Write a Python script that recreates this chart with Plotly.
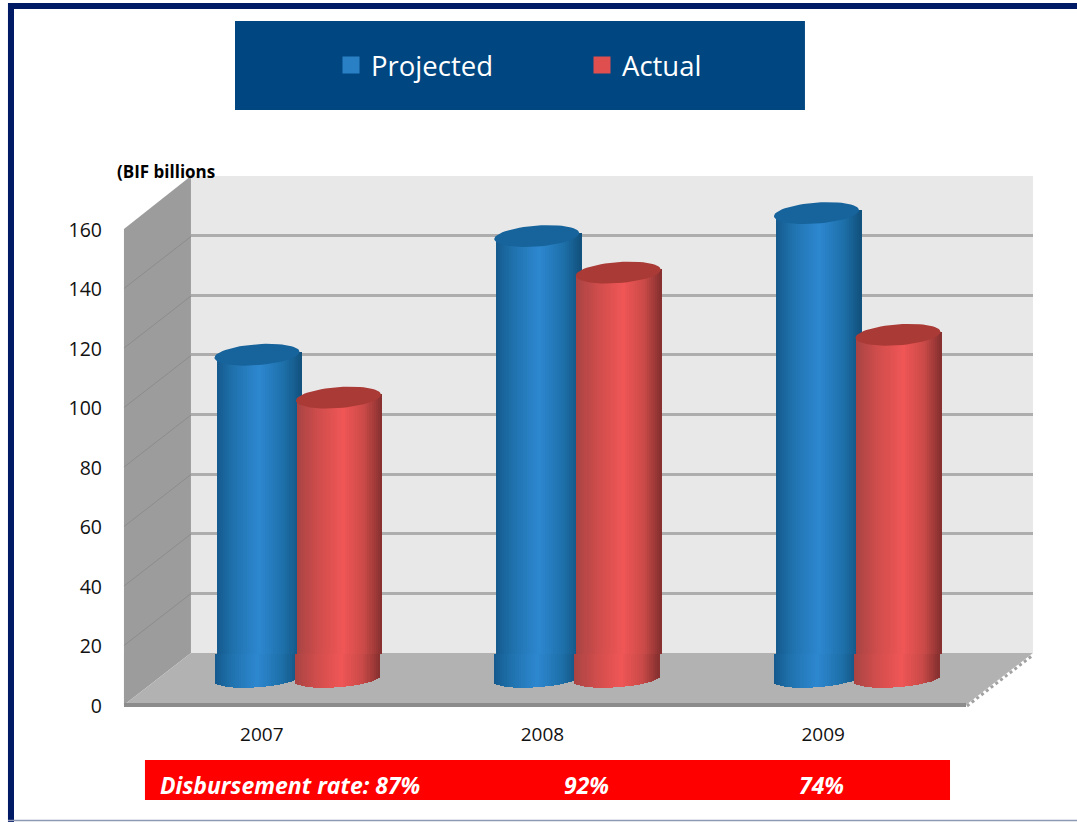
import math
import plotly.graph_objects as go

years = ["2007", "2008", "2009"]
projected = [109, 148.9, 156.6]
actual = [94.6, 136.6, 115.7]
rate_labels = ["Disbursement rate: 87%", "92%", "74%"]
y_ticks = [0, 20, 40, 60, 80, 100, 120, 140, 160]

W, H = 1077, 822
def xp(px): return px / W
def yp(py): return 1 - py / H
FONT = "Open Sans"

SCALE = 2.975          # px per unit
CAT = 279.75           # px per category at mid depth
HALF = 42.5 / CAT      # half cylinder width in categories
OFF = 40 / CAT         # series offset
B, TILT = 10.5, 3.0    # cap ellipse half height, tilt (px)
B_LOW = 8.5            # foot ellipse half height (px)
FLOOR = 8.4            # level of the floor's back edge on the cylinder scale
N = 42

BLUE = [(0, "#155a8e"), (0.2, "#1f72ad"), (0.5, "#2e88d0"), (0.8, "#1c6fa8"), (1, "#11507c")]
RED = [(0, "#a84444"), (0.25, "#cf4d4c"), (0.55, "#f05656"), (0.8, "#c94a48"), (1, "#842f2f")]

def mix(stops, t):
    for (a, ca), (b, cb) in zip(stops, stops[1:]):
        if t <= b:
            f = (t - a) / (b - a)
            rgb = [round(int(ca[i:i+2], 16) * (1 - f) + int(cb[i:i+2], 16) * f) for i in (1, 3, 5)]
            return "rgb(%d,%d,%d)" % tuple(rgb)
    return stops[-1][1]

def strips(values, off, stops, lower):
    xs, ys, bases, cols = [], [], [], []
    shift = (-1.5 if lower else 0.5) / CAT
    for c, v in enumerate(values):
        for i in range(N):
            u = (i + .5) / N * 2 - 1
            if lower:
                low = (-B_LOW * math.sqrt(1 - u * u) + TILT * u) / SCALE
                top = FLOOR
            else:
                low = FLOOR
                top = v + TILT * u / SCALE
            xs.append(c + off + shift + u * HALF)
            bases.append(low)
            ys.append(top - low)
            cols.append(mix(stops, (u + 1) / 2))
    return xs, ys, bases, cols

def caps(values, off, shift_px):
    xs, ys = [], []
    for c, v in enumerate(values):
        for k in range(61):
            t = 2 * math.pi * k / 60
            xs.append(c + off + shift_px / CAT + HALF * math.cos(t))
            ys.append(v + (B * math.sin(t) + TILT * math.cos(t)) / SCALE)
        xs.append(None); ys.append(None)
    return xs, ys

fig = go.Figure()
cats = list(range(len(years)))
sw = 2 * HALF / N * 1.25

# invisible carriers so the back-wall and front axes get drawn
fig.add_scatter(x=[0, 3], y=[0, 160], mode="markers", marker=dict(opacity=0), showlegend=False,
                hoverinfo="skip", xaxis="x", yaxis="y")
fig.add_scatter(x=cats, y=[0, 0, 0], mode="markers", marker=dict(opacity=0), showlegend=False,
                hoverinfo="skip", xaxis="x2", yaxis="y2")

for name, vals, off, stops, mid in [
    ("Projected", projected, -OFF, BLUE, "#2a80c4"),
    ("Actual", actual, OFF, RED, "#e04f4f"),
]:
    fig.add_bar(x=[c + off for c in cats], y=vals, width=0.12, name=name,
                marker=dict(color=mid, line=dict(color=mid, width=5)),
                xaxis="x3", yaxis="y3")
    for lower in (False, True):
        sx, sy, sb, sc = strips(vals, off, stops, lower)
        fig.add_bar(x=sx, y=sy, base=sb, width=sw, showlegend=False, hoverinfo="skip",
                    marker=dict(color=sc, line=dict(width=0)), xaxis="x3", yaxis="y3")
cx, cy = caps(projected, -OFF, -1.5)
fig.add_scatter(x=cx, y=cy, mode="lines", fill="toself", fillcolor="#17639b",
                line=dict(width=0, color="#17639b"), showlegend=False, hoverinfo="skip",
                xaxis="x3", yaxis="y3")
cx, cy = caps(actual, OFF, 0)
fig.add_scatter(x=cx, y=cy, mode="lines", fill="toself", fillcolor="#aa3a35",
                line=dict(width=0, color="#aa3a35"), showlegend=False, hoverinfo="skip",
                xaxis="x3", yaxis="y3")

def poly(pts, color, layer="below"):
    d = "M" + " L".join("%.4f,%.4f" % (xp(a), yp(b)) for a, b in pts) + " Z"
    return dict(type="path", path=d, xref="paper", yref="paper", fillcolor=color,
                line=dict(width=0), layer=layer)

def seg(a, b, c, d, color, width, dash="solid"):
    return dict(type="line", xref="paper", yref="paper", x0=xp(a), y0=yp(b), x1=xp(c), y1=yp(d),
                line=dict(color=color, width=width, dash=dash), layer="below")

shapes = [
    poly([(191, 176), (1033, 176), (1033, 653), (191, 653)], "#e8e8e8"),
    poly([(124, 229), (191, 176), (191, 653), (124, 705)], "#9c9c9c"),
    poly([(124, 705), (191, 653), (1033, 653), (966, 705)], "#b2b2b2"),
    seg(124, 705, 966, 705, "#8c8c8c", 4),
    seg(967, 706, 1033, 655, "#a2a2a2", 3, "dot"),
    # legend box, rate band, frame
    poly([(235, 21), (805, 21), (805, 110), (235, 110)], "#004680"),
    poly([(145, 760), (950, 760), (950, 800), (145, 800)], "#ff0000"),
    poly([(8, 3), (1077, 3), (1077, 9), (14, 9), (14, 822), (8, 822)], "#001a66"),
    seg(8, 820.5, 1077, 820.5, "#8f99b5", 1.5),
]
for t in y_ticks[1:-1]:
    shapes.append(seg(124, 705 - t * SCALE, 191, 653 - t * SCALE, "#8c8c8c", 1))
fig.update_layout(shapes=shapes)

ann = [dict(text="<b>(BIF billions</b>", x=xp(165.5), y=yp(172), xref="paper", yref="paper",
            xanchor="center", yanchor="middle",
            showarrow=False, font=dict(family=FONT, size=17, color="#000000"))]
for txt, px in zip(rate_labels, [289.5, 586, 821]):
    ann.append(dict(text="<b><i>%s</i></b>" % txt, x=xp(px), y=yp(785), xref="paper", yref="paper",
                    xanchor="center", yanchor="middle",
                    showarrow=False, font=dict(family=FONT, size=23, color="#ffffff")))

fig.update_layout(
    width=W, height=H, margin=dict(l=0, r=0, t=0, b=0, autoexpand=False), autosize=False,
    paper_bgcolor="#ffffff", plot_bgcolor="rgba(0,0,0,0)",
    barmode="overlay", bargap=0, annotations=ann,
    font=dict(family=FONT, color="#111111", size=19),
    legend=dict(orientation="h", x=xp(331), y=yp(65), xanchor="left", yanchor="middle",
                bgcolor="rgba(0,0,0,0)", font=dict(family=FONT, size=27.5, color="#ffffff"),
                entrywidthmode="pixels", entrywidth=206, traceorder="normal"),
    # back wall
    xaxis=dict(domain=[xp(191), xp(1033)], range=[0, 3], visible=False, anchor="y"),
    yaxis=dict(domain=[yp(653), yp(176)], range=[0, 160], anchor="x", showgrid=True,
               gridcolor="#adadad", gridwidth=2.5, tickmode="array", tickvals=y_ticks,
               showticklabels=False, ticks="", zeroline=False, showline=False),
    # front axes
    xaxis2=dict(domain=[xp(124), xp(966)], range=[-0.491, 2.509], anchor="y2", tickmode="array",
                tickvals=cats, ticktext=years, showgrid=False, zeroline=False, showline=False,
                ticks="", ticklabelstandoff=15,
                tickfont=dict(family=FONT, size=19, color="#111111")),
    yaxis2=dict(domain=[yp(706), yp(230)], range=[0, 160], anchor="x2", tickmode="array",
                tickvals=y_ticks, showgrid=False, zeroline=False, showline=False, ticks="",
                ticklabelstandoff=21, tickfont=dict(family=FONT, size=19.5, color="#111111")),
    # mid-depth axes holding the cylinders
    xaxis3=dict(domain=[xp(158.6), xp(158.6 + 3 * CAT)], range=[-0.5, 2.5], anchor="y3", visible=False),
    yaxis3=dict(domain=[yp(679 + 15 * SCALE), yp(679 - 170 * SCALE)], range=[-15, 170], anchor="x3",
                visible=False),
)
fig.write_html("out.html", post_script="document.body.style.margin='0';",
               config=dict(displayModeBar=False))
